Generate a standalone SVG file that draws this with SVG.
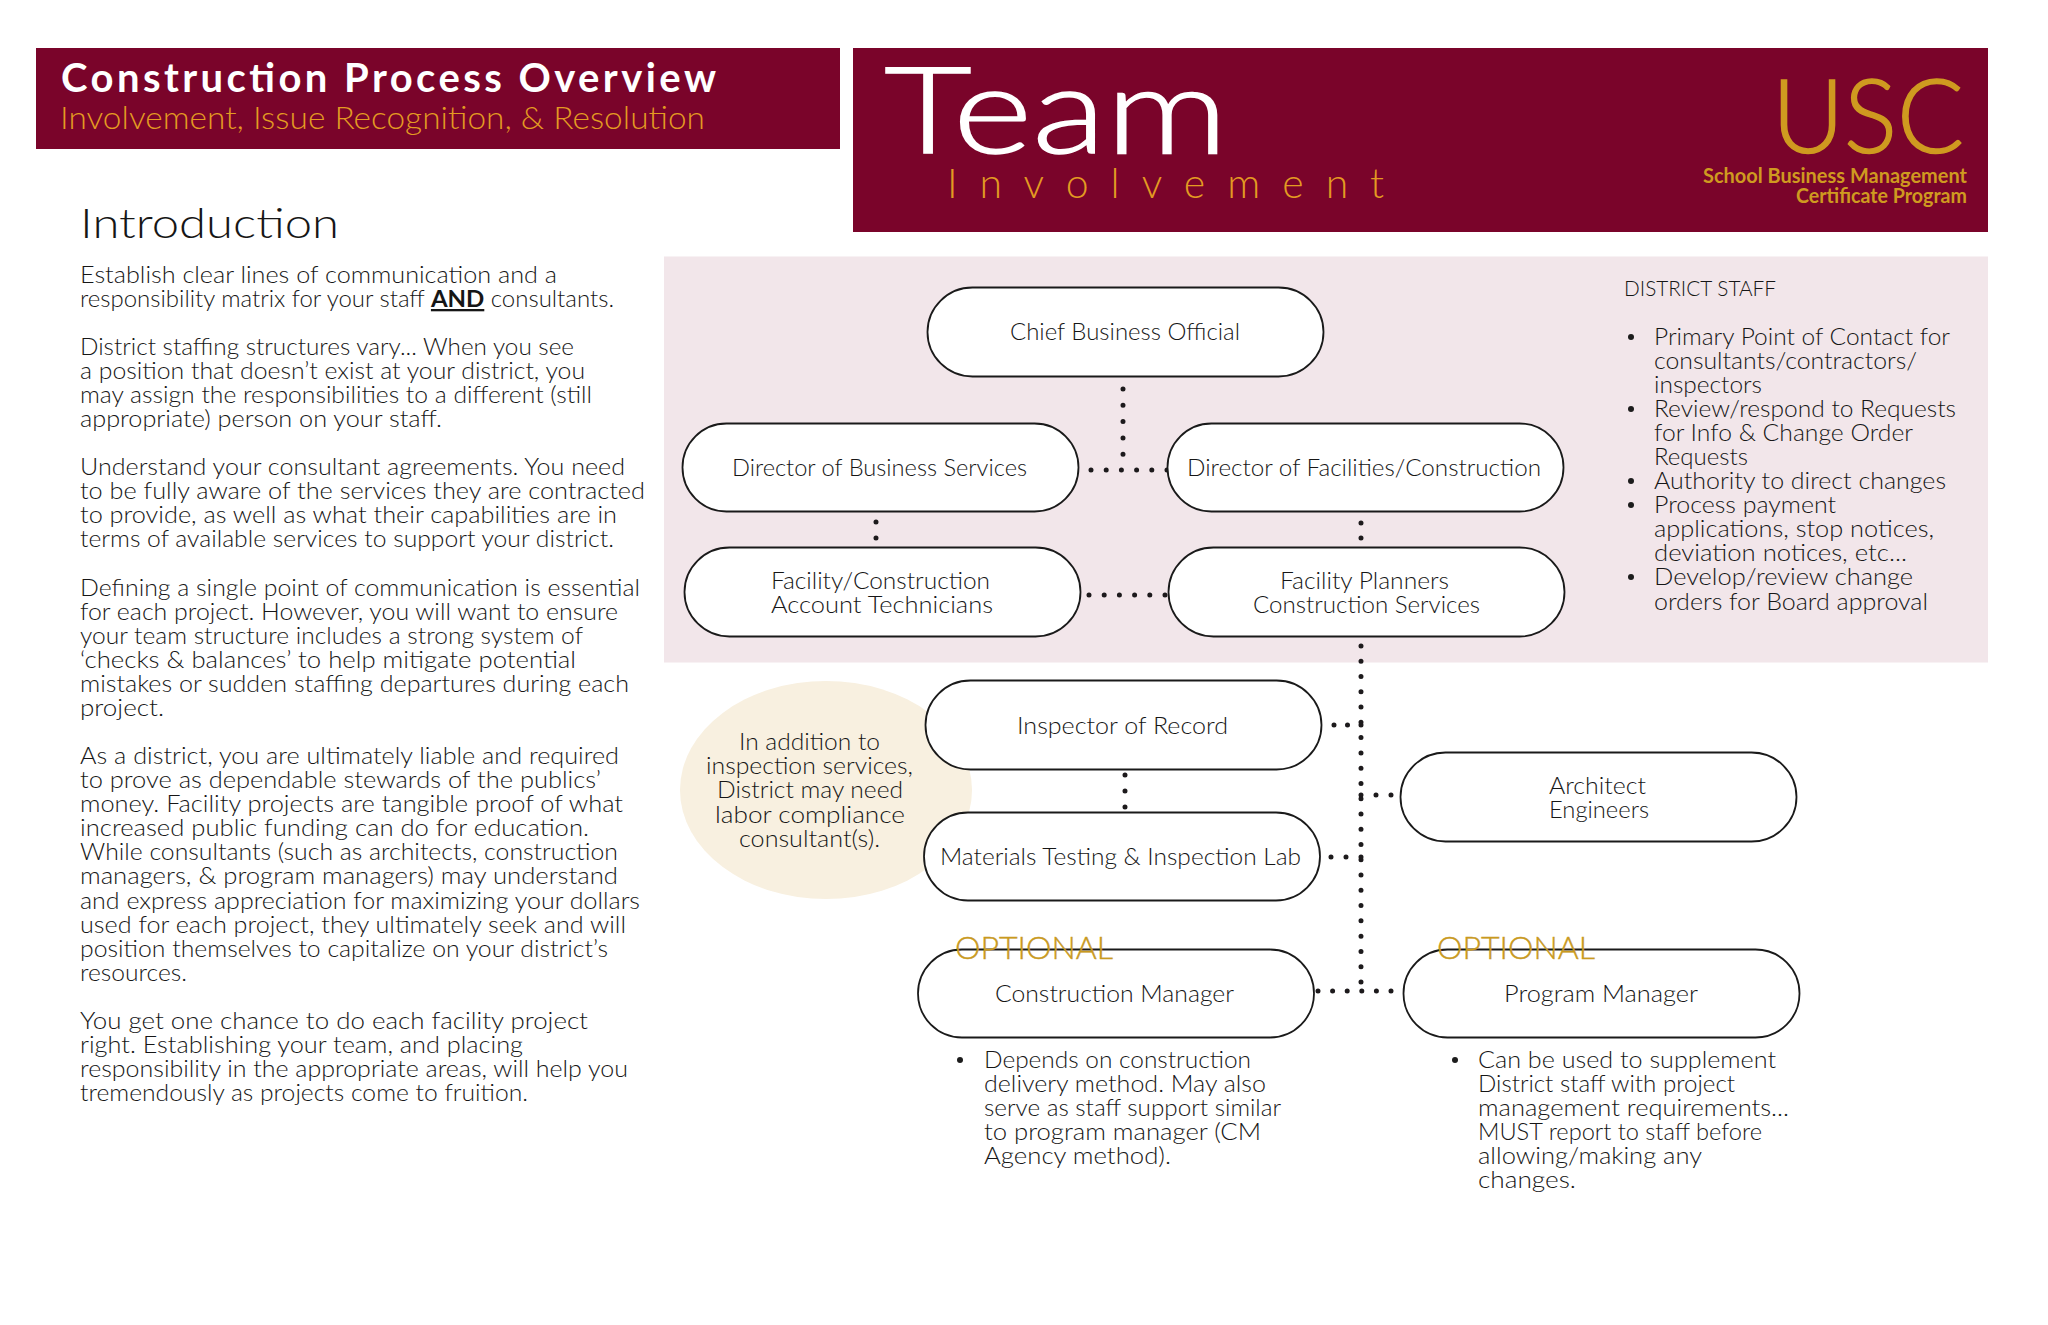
<svg xmlns="http://www.w3.org/2000/svg" width="2048" height="1325" viewBox="0 0 2048 1325">
<style>
text{font-family:"Lato","Open Sans","Liberation Sans",sans-serif;font-weight:300;fill:#161616;font-size:23px}
.node{fill:#fff;stroke:#1a1a1a;stroke-width:1.8}
.dot{fill:none;stroke:#1d1a1c;stroke-width:5;stroke-linecap:round}
.opt{fill:#c99a1f;stroke:#c99a1f;stroke-width:.4;font-size:31px}
</style>
<rect width="2048" height="1325" fill="#fff"/>
<g id="header-left">
<rect x="36" y="48" width="804" height="101" fill="#7a042a"/>
<text x="61" y="92" textLength="655" lengthAdjust="spacing" style="font-size:40px;font-weight:700;fill:#fff">Construction Process Overview</text>
<text x="60" y="129" textLength="645" lengthAdjust="spacingAndGlyphs" style="font-size:32px;fill:#e39b22">Involvement, Issue Recognition, &amp; Resolution</text>
</g>
<g id="header-right">
<rect x="853" y="48" width="1135" height="184" fill="#7a042a"/>
<text x="884" y="153" textLength="344" lengthAdjust="spacingAndGlyphs" style="font-size:120px;fill:#fff;stroke:#fff;stroke-width:1.5">Team</text>
<text x="947" y="198" textLength="437" lengthAdjust="spacing" style="font-size:41px;fill:#e39b22">Involvement</text>
<text x="1772" y="153" textLength="192" lengthAdjust="spacingAndGlyphs" style="font-size:102px;fill:#cf9a20;stroke:#cf9a20;stroke-width:1.5">USC</text>
<text x="1703" y="183" textLength="264" lengthAdjust="spacingAndGlyphs" style="font-size:21px;font-weight:700;fill:#cf9a20">School Business Management</text>
<text x="1796" y="203" textLength="171" lengthAdjust="spacingAndGlyphs" style="font-size:21px;font-weight:700;fill:#cf9a20">Certificate Program</text>
</g>
<g id="introduction" transform="translate(0,1)">
<text x="80" y="237" textLength="259" lengthAdjust="spacingAndGlyphs" style="font-size:42px">Introduction</text>
<g id="intro-text">
<text x="80" y="282" textLength="477" lengthAdjust="spacingAndGlyphs">Establish clear lines of communication and a</text>
<text x="80" y="306" textLength="534" lengthAdjust="spacingAndGlyphs">responsibility matrix for your staff <tspan font-weight="700" text-decoration="underline">AND</tspan> consultants.</text>
<text x="80" y="354" textLength="494" lengthAdjust="spacingAndGlyphs">District staffing structures vary... When you see</text>
<text x="80" y="378" textLength="505" lengthAdjust="spacingAndGlyphs">a position that doesn’t exist at your district, you</text>
<text x="80" y="402" textLength="512" lengthAdjust="spacingAndGlyphs">may assign the responsibilities to a different (still</text>
<text x="80" y="426" textLength="362" lengthAdjust="spacingAndGlyphs">appropriate) person on your staff.</text>
<text x="80" y="474" textLength="545" lengthAdjust="spacingAndGlyphs">Understand your consultant agreements. You need</text>
<text x="80" y="498" textLength="565" lengthAdjust="spacingAndGlyphs">to be fully aware of the services they are contracted</text>
<text x="80" y="522" textLength="537" lengthAdjust="spacingAndGlyphs">to provide, as well as what their capabilities are in</text>
<text x="80" y="546" textLength="534" lengthAdjust="spacingAndGlyphs">terms of available services to support your district.</text>
<text x="80" y="595" textLength="560" lengthAdjust="spacingAndGlyphs">Defining a single point of communication is essential</text>
<text x="80" y="619" textLength="538" lengthAdjust="spacingAndGlyphs">for each project. However, you will want to ensure</text>
<text x="80" y="643" textLength="503" lengthAdjust="spacingAndGlyphs">your team structure includes a strong system of</text>
<text x="80" y="667" textLength="496" lengthAdjust="spacingAndGlyphs">‘checks &amp; balances’ to help mitigate potential</text>
<text x="80" y="691" textLength="549" lengthAdjust="spacingAndGlyphs">mistakes or sudden staffing departures during each</text>
<text x="80" y="715" textLength="84" lengthAdjust="spacingAndGlyphs">project.</text>
<text x="80" y="763" textLength="539" lengthAdjust="spacingAndGlyphs">As a district, you are ultimately liable and required</text>
<text x="80" y="787" textLength="521" lengthAdjust="spacingAndGlyphs">to prove as dependable stewards of the publics’</text>
<text x="80" y="811" textLength="543" lengthAdjust="spacingAndGlyphs">money. Facility projects are tangible proof of what</text>
<text x="80" y="835" textLength="509" lengthAdjust="spacingAndGlyphs">increased public funding can do for education.</text>
<text x="80" y="859" textLength="538" lengthAdjust="spacingAndGlyphs">While consultants (such as architects, construction</text>
<text x="80" y="883" textLength="538" lengthAdjust="spacingAndGlyphs">managers, &amp; program managers) may understand</text>
<text x="80" y="908" textLength="560" lengthAdjust="spacingAndGlyphs">and express appreciation for maximizing your dollars</text>
<text x="80" y="932" textLength="546" lengthAdjust="spacingAndGlyphs">used for each project, they ultimately seek and will</text>
<text x="80" y="956" textLength="528" lengthAdjust="spacingAndGlyphs">position themselves to capitalize on your district’s</text>
<text x="80" y="980" textLength="107" lengthAdjust="spacingAndGlyphs">resources.</text>
<text x="80" y="1028" textLength="508" lengthAdjust="spacingAndGlyphs">You get one chance to do each facility project</text>
<text x="80" y="1052" textLength="443" lengthAdjust="spacingAndGlyphs">right. Establishing your team, and placing</text>
<text x="80" y="1076" textLength="548" lengthAdjust="spacingAndGlyphs">responsibility in the appropriate areas, will help you</text>
<text x="80" y="1100" textLength="448" lengthAdjust="spacingAndGlyphs">tremendously as projects come to fruition.</text>
</g>
</g>
<rect id="district-band" x="664" y="256.5" width="1324" height="406" fill="#f2e6ea"/>
<ellipse id="labor-note-bg" cx="826" cy="790" rx="146" ry="109" fill="#f8f0e0"/>
<g id="connectors">
<line class="dot" x1="1123" y1="389" x2="1123" y2="455" stroke-dasharray="0 16.3"/>
<line class="dot" x1="1091" y1="470" x2="1168" y2="470" stroke-dasharray="0 15.2"/>
<line class="dot" x1="876" y1="522" x2="876" y2="539" stroke-dasharray="0 16"/>
<line class="dot" x1="1361" y1="523" x2="1361" y2="539" stroke-dasharray="0 15"/>
<line class="dot" x1="1089" y1="595" x2="1166" y2="595" stroke-dasharray="0 15.2"/>
<line class="dot" x1="1361" y1="646" x2="1361" y2="983" stroke-dasharray="0 15.27"/>
<line class="dot" x1="1334" y1="725" x2="1362" y2="725" stroke-dasharray="0 13.5"/>
<line class="dot" x1="1331" y1="857" x2="1362" y2="857" stroke-dasharray="0 15"/>
<line class="dot" x1="1361" y1="795" x2="1392" y2="795" stroke-dasharray="0 15"/>
<line class="dot" x1="1318" y1="991" x2="1392" y2="991" stroke-dasharray="0 14.6"/>
<line class="dot" x1="1125" y1="775" x2="1125" y2="808" stroke-dasharray="0 16"/>
</g>
<g id="chief"><rect class="node" x="927.5" y="287.5" width="396" height="89" rx="45"/><text x="1010" y="340" textLength="230" lengthAdjust="spacingAndGlyphs">Chief Business Official</text></g>
<g id="dir-business"><rect class="node" x="682.5" y="423.5" width="396" height="88" rx="44"/><text x="732" y="476" textLength="295" lengthAdjust="spacingAndGlyphs">Director of Business Services</text></g>
<g id="dir-facilities"><rect class="node" x="1167.5" y="423.5" width="396" height="88" rx="44"/><text x="1187" y="476" textLength="354" lengthAdjust="spacingAndGlyphs">Director of Facilities/Construction</text></g>
<g id="account-tech"><rect class="node" x="684.5" y="547.5" width="396" height="89" rx="45"/><text x="771" y="589" textLength="219" lengthAdjust="spacingAndGlyphs">Facility/Construction</text><text x="771" y="613" textLength="222" lengthAdjust="spacingAndGlyphs">Account Technicians</text></g>
<g id="facility-planners"><rect class="node" x="1168.5" y="547.5" width="396" height="89" rx="45"/><text x="1280" y="589" textLength="169" lengthAdjust="spacingAndGlyphs">Facility Planners</text><text x="1253" y="613" textLength="227" lengthAdjust="spacingAndGlyphs">Construction Services</text></g>
<g id="inspector"><rect class="node" x="925.5" y="680.5" width="396" height="89" rx="45"/><text x="1017" y="734" textLength="211" lengthAdjust="spacingAndGlyphs">Inspector of Record</text></g>
<g id="materials"><rect class="node" x="924" y="812.5" width="396" height="88" rx="44"/><text x="940" y="865" textLength="361" lengthAdjust="spacingAndGlyphs">Materials Testing &amp; Inspection Lab</text></g>
<g id="architect"><rect class="node" x="1400.5" y="752.5" width="396" height="89" rx="45"/><text x="1549" y="794" textLength="97" lengthAdjust="spacingAndGlyphs">Architect</text><text x="1549" y="818" textLength="100" lengthAdjust="spacingAndGlyphs">Engineers</text></g>
<g id="construction-manager"><rect class="node" x="918" y="949.5" width="396" height="88" rx="44"/><text x="995" y="1002" textLength="239" lengthAdjust="spacingAndGlyphs">Construction Manager</text><text x="955" y="959" textLength="158" lengthAdjust="spacingAndGlyphs" style="fill:#c99a1f;stroke:#c99a1f;stroke-width:.4;font-size:31px">OPTIONAL</text></g>
<g id="program-manager"><rect class="node" x="1403.5" y="949.5" width="396" height="88" rx="44"/><text x="1504" y="1002" textLength="194" lengthAdjust="spacingAndGlyphs">Program Manager</text><text x="1437" y="959" textLength="158" lengthAdjust="spacingAndGlyphs" style="fill:#c99a1f;stroke:#c99a1f;stroke-width:.4;font-size:31px">OPTIONAL</text></g>
<g id="labor-note" transform="translate(0,1)">
<text x="739" y="749" textLength="141" lengthAdjust="spacingAndGlyphs">In addition to</text>
<text x="706" y="773" textLength="207" lengthAdjust="spacingAndGlyphs">inspection services,</text>
<text x="717" y="797" textLength="186" lengthAdjust="spacingAndGlyphs">District may need</text>
<text x="715" y="822" textLength="190" lengthAdjust="spacingAndGlyphs">labor compliance</text>
<text x="739" y="846" textLength="141" lengthAdjust="spacingAndGlyphs">consultant(s).</text>
</g>
<g id="district-staff" transform="translate(0,1)">
<text x="1624" y="295" textLength="152" lengthAdjust="spacingAndGlyphs" style="font-size:21px">DISTRICT STAFF</text>
<circle cx="1631" cy="336" r="3" fill="#1c1c1c"/><circle cx="1631" cy="408" r="3" fill="#1c1c1c"/><circle cx="1631" cy="480" r="3" fill="#1c1c1c"/><circle cx="1631" cy="504" r="3" fill="#1c1c1c"/><circle cx="1631" cy="576" r="3" fill="#1c1c1c"/>
<text x="1654" y="344" textLength="296" lengthAdjust="spacingAndGlyphs">Primary Point of Contact for</text>
<text x="1654" y="368" textLength="263" lengthAdjust="spacingAndGlyphs">consultants/contractors/</text>
<text x="1654" y="392" textLength="108" lengthAdjust="spacingAndGlyphs">inspectors</text>
<text x="1654" y="416" textLength="302" lengthAdjust="spacingAndGlyphs">Review/respond to Requests</text>
<text x="1654" y="440" textLength="259" lengthAdjust="spacingAndGlyphs">for Info &amp; Change Order</text>
<text x="1654" y="464" textLength="94" lengthAdjust="spacingAndGlyphs">Requests</text>
<text x="1654" y="488" textLength="292" lengthAdjust="spacingAndGlyphs">Authority to direct changes</text>
<text x="1654" y="512" textLength="182" lengthAdjust="spacingAndGlyphs">Process payment</text>
<text x="1654" y="536" textLength="280" lengthAdjust="spacingAndGlyphs">applications, stop notices,</text>
<text x="1654" y="560" textLength="253" lengthAdjust="spacingAndGlyphs">deviation notices, etc...</text>
<text x="1654" y="584" textLength="259" lengthAdjust="spacingAndGlyphs">Develop/review change</text>
<text x="1654" y="609" textLength="274" lengthAdjust="spacingAndGlyphs">orders for Board approval</text>
</g>
<g id="cm-notes" transform="translate(0,1)">
<circle cx="960" cy="1059" r="3" fill="#1c1c1c"/>
<text x="984" y="1067" textLength="267" lengthAdjust="spacingAndGlyphs">Depends on construction</text>
<text x="984" y="1091" textLength="282" lengthAdjust="spacingAndGlyphs">delivery method. May also</text>
<text x="984" y="1115" textLength="297" lengthAdjust="spacingAndGlyphs">serve as staff support similar</text>
<text x="984" y="1139" textLength="277" lengthAdjust="spacingAndGlyphs">to program manager (CM</text>
<text x="984" y="1163" textLength="187" lengthAdjust="spacingAndGlyphs">Agency method).</text>
</g>
<g id="pm-notes" transform="translate(0,1)">
<circle cx="1455" cy="1059" r="3" fill="#1c1c1c"/>
<text x="1478" y="1067" textLength="298" lengthAdjust="spacingAndGlyphs">Can be used to supplement</text>
<text x="1478" y="1091" textLength="257" lengthAdjust="spacingAndGlyphs">District staff with project</text>
<text x="1478" y="1115" textLength="311" lengthAdjust="spacingAndGlyphs">management requirements...</text>
<text x="1478" y="1139" textLength="284" lengthAdjust="spacingAndGlyphs">MUST report to staff before</text>
<text x="1478" y="1163" textLength="224" lengthAdjust="spacingAndGlyphs">allowing/making any</text>
<text x="1478" y="1187" textLength="98" lengthAdjust="spacingAndGlyphs">changes.</text>
</g>
</svg>
